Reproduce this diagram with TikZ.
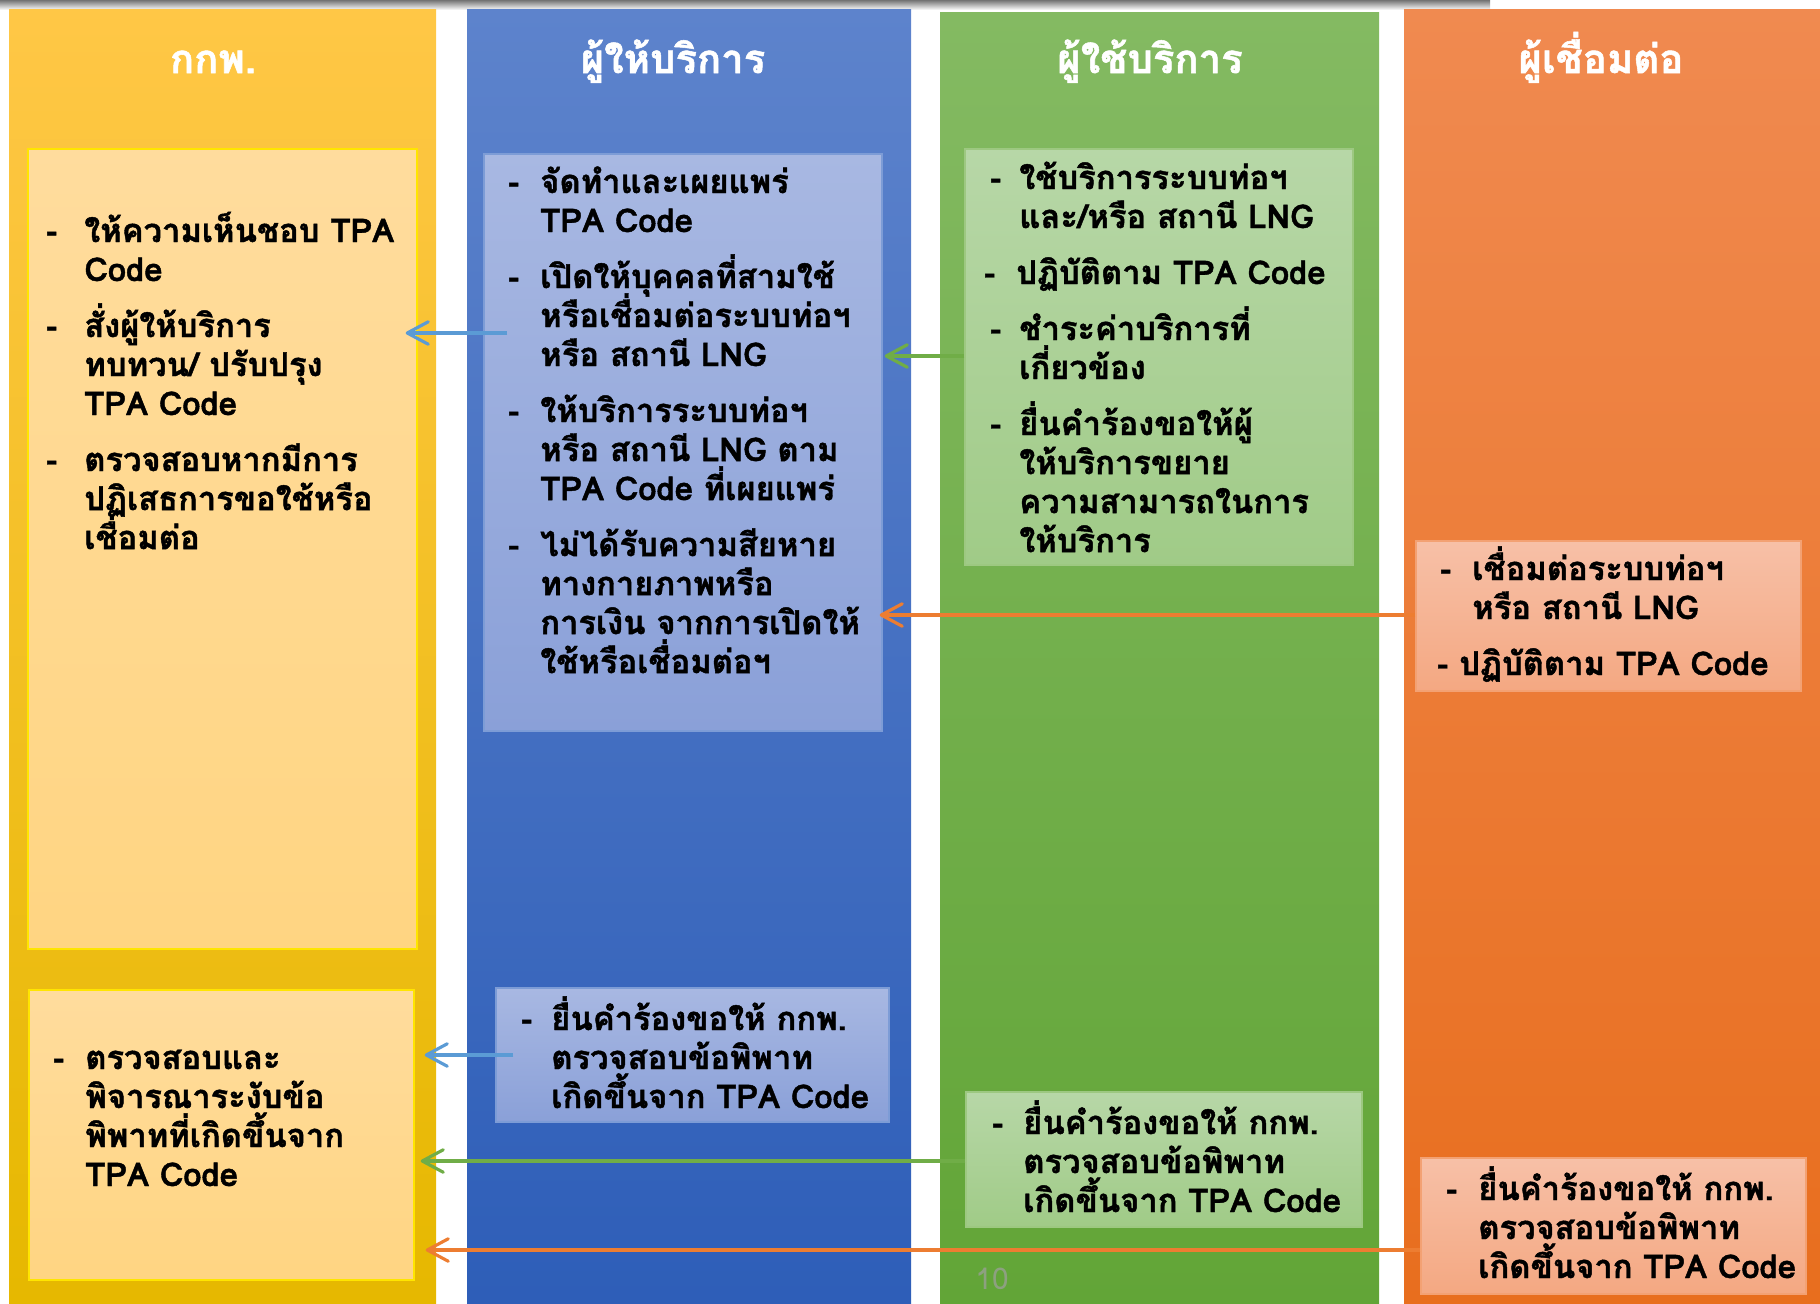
\documentclass[tikz,border=0pt]{standalone}
\usepackage{fontspec}
\setmainfont[Script=Thai, BoldFeatures={FakeBold=1.3}]{Loma}
\usetikzlibrary{arrows.meta,calc,fit}
\definecolor{colYt}{RGB}{255,199,70}
\definecolor{colYb}{RGB}{230,184,0}
\definecolor{colBt}{RGB}{93,131,204}
\definecolor{colBb}{RGB}{46,94,184}
\definecolor{colGt}{RGB}{132,186,98}
\definecolor{colGb}{RGB}{98,165,55}
\definecolor{colOt}{RGB}{240,138,80}
\definecolor{colOb}{RGB}{232,110,30}
\definecolor{boxYt}{RGB}{255,220,157}
\definecolor{boxYb}{RGB}{255,213,130}
\definecolor{boxBt}{RGB}{168,184,226}
\definecolor{boxBb}{RGB}{138,160,216}
\definecolor{boxGt}{RGB}{183,215,167}
\definecolor{boxGb}{RGB}{160,203,135}
\definecolor{boxOt}{RGB}{247,192,167}
\definecolor{boxOb}{RGB}{244,168,130}
\colorlet{lineY}{orange!20!yellow}
\colorlet{lineB}{colBt!80!white}
\colorlet{lineG}{colGt!80!white}
\colorlet{lineO}{colOt!80!white}
\definecolor{arrB}{RGB}{91,155,213}
\definecolor{arrG}{RGB}{112,173,71}
\definecolor{arrO}{RGB}{237,125,49}
\newlength{\px}
\setlength{\px}{0.02cm}
\newcommand{\boxtxt}{\setlength{\parskip}{17\px}\setlength{\lineskiplimit}{-100pt}}
\newcommand{\itm}[2][38]{\par\hangindent=#1\px\hangafter=1\noindent\makebox[#1\px][l]{-}#2\par}
\newcommand{\itmd}[3]{\par\noindent\hspace*{#1\px}\makebox[#2\px][l]{-}#3\par}
\tikzset{
  col/.style={inner sep=0pt, draw=none},
  box/.style={inner sep=0pt, line width=0.8pt},
  title/.style={anchor=base, text=white, font=\bfseries\fontsize{22.8}{27}\selectfont},
  txt/.style={anchor=base west, inner sep=0pt, text width=480\px, font=\bfseries\fontsize{18.6}{22.2}\selectfont},
  arrb/.style={line width=1.8pt, -{Straight Barb[length=0.42cm,width=0.45cm,round]}},
}
\begin{document}
\begin{tikzpicture}[x=0.02cm,y=-0.02cm]
\useasboundingbox (0,0) rectangle (1820,1303);
\shade[top color=black!55, bottom color=white] (0,0) rectangle (1490,10);
% columns
\node[col, top color=colYt, bottom color=colYb, fit={(9,9) (436,1303)}] (ycol) {};
\node[col, top color=colBt, bottom color=colBb, fit={(467,9) (911,1303)}] (bcol) {};
\node[col, top color=colGt, bottom color=colGb, fit={(940,12) (1379,1303)}] (gcol) {};
\node[col, top color=colOt, bottom color=colOb, fit={(1404,9) (1820,1303)}] (ocol) {};
\node[title] (ytitle) at (213,73) {กกพ.};
\node[title] (btitle) at (673,73) {ผู้ให้บริการ};
\node[title] (gtitle) at (1150,73) {ผู้ใช้บริการ};
\node[title] (otitle) at (1601,73) {ผู้เชื่อมต่อ};
% boxes
\node[box, draw=lineY, top color=boxYt, bottom color=boxYb, fit={(28,149) (417,949)}] (y1) {};
\node[box, draw=lineY, top color=boxYt, bottom color=boxYb, fit={(29,990) (414,1280)}] (y2) {};
\node[box, draw=lineB, top color=boxBt, bottom color=boxBb, fit={(484,154) (882,731)}] (b1) {};
\node[box, draw=lineB, top color=boxBt, bottom color=boxBb, fit={(496,988) (889,1122)}] (b2) {};
\node[box, draw=lineG, top color=boxGt, bottom color=boxGb, fit={(965,149) (1353,565)}] (g1) {};
\node[box, draw=lineG, top color=boxGt, bottom color=boxGb, fit={(966,1092) (1362,1227)}] (g2) {};
\node[box, draw=lineO, top color=boxOt, bottom color=boxOb, fit={(1416,541) (1801,691)}] (o1) {};
\node[box, draw=lineO, top color=boxOt, bottom color=boxOb, fit={(1421,1158) (1806,1294)}] (o2) {};
% texts
\node[txt] (y1t) at (46,186) {\boxtxt
  \itm{ให้ความเห็นชอบ TPA\newline Code}
  \itm{สั่งผู้ให้บริการ\newline ทบทวน/ ปรับปรุง\newline TPA Code}
  \itm{ตรวจสอบหากมีการ\newline ปฏิเสธการขอใช้หรือ\newline เชื่อมต่อ}};
\node[txt] (b1t) at (508,137) {\boxtxt
  \itm[32]{จัดทำและเผยแพร่\newline TPA Code}
  \itm[32]{เปิดให้บุคคลที่สามใช้\newline หรือเชื่อมต่อระบบท่อฯ\newline หรือ สถานี LNG}
  \itm[32]{ให้บริการระบบท่อฯ\newline หรือ สถานี LNG ตาม\newline TPA Code ที่เผยแพร่}
  \itm[32]{ไม่ได้รับความสียหาย\newline ทางกายภาพหรือ\newline การเงิน จากการเปิดให้\newline ใช้หรือเชื่อมต่อฯ}};
\node[txt] (g1t) at (990,133) {\boxtxt
  \itm[29]{ใช้บริการระบบท่อฯ\newline และ/หรือ สถานี LNG}
  \itmd{-6}{32}{ปฏิบัติตาม TPA Code}
  \itm[29]{ชำระค่าบริการที่\newline เกี่ยวข้อง}
  \itm[29]{ยื่นคำร้องขอให้ผู้\newline ให้บริการขยาย\newline ความสามารถในการ\newline ให้บริการ}};
\node[txt] (o1t) at (1440,524) {\boxtxt
  \itm[32]{เชื่อมต่อระบบท่อฯ\newline หรือ สถานี LNG}
  \itmd{-3}{22}{ปฏิบัติตาม TPA Code}};
\node[txt] (y2t) at (53,1013) {\boxtxt
  \itm[32]{ตรวจสอบและ\newline พิจารณาระงับข้อ\newline พิพาทที่เกิดขึ้นจาก\newline TPA Code}};
\node[txt] (b2t) at (521,974) {\boxtxt
  \itm[30]{ยื่นคำร้องขอให้ กกพ.\newline ตรวจสอบข้อพิพาท\newline เกิดขึ้นจาก TPA Code}};
\node[txt] (g2t) at (992,1078) {\boxtxt
  \itm[31]{ยื่นคำร้องขอให้ กกพ.\newline ตรวจสอบข้อพิพาท\newline เกิดขึ้นจาก TPA Code}};
\node[txt] (o2t) at (1446,1144) {\boxtxt
  \itm[32]{ยื่นคำร้องขอให้ กกพ.\newline ตรวจสอบข้อพิพาท\newline เกิดขึ้นจาก TPA Code}};
\node[text=gray!75, text opacity=0.7, font=\fontsize{17}{20}\selectfont] (pgnum) at (992,1279) {10};
% arrows
\draw[arrb, arrB] ($(b1.west |- 0,333)+(24,0)$) -- ($(y1.east |- 0,333)+(-12,0)$);
\draw[arrb, arrG] (g1.west |- 0,356) -- ($(b1.east |- 0,356)+(2,0)$);
\draw[arrb, arrO] (o1.west |- 0,615) -- ($(b1.east |- 0,615)+(-3,0)$);
\draw[arrb, arrB] ($(b2.west |- 0,1055)+(18,0)$) -- ($(y2.east |- 0,1055)+(10,0)$);
\draw[arrb, arrG] (g2.west |- 0,1161) -- ($(y2.east |- 0,1161)+(6,0)$);
\draw[arrb, arrO] (o2.west |- 0,1250) -- ($(y2.east |- 0,1250)+(11,0)$);
\end{tikzpicture}
\end{document}
